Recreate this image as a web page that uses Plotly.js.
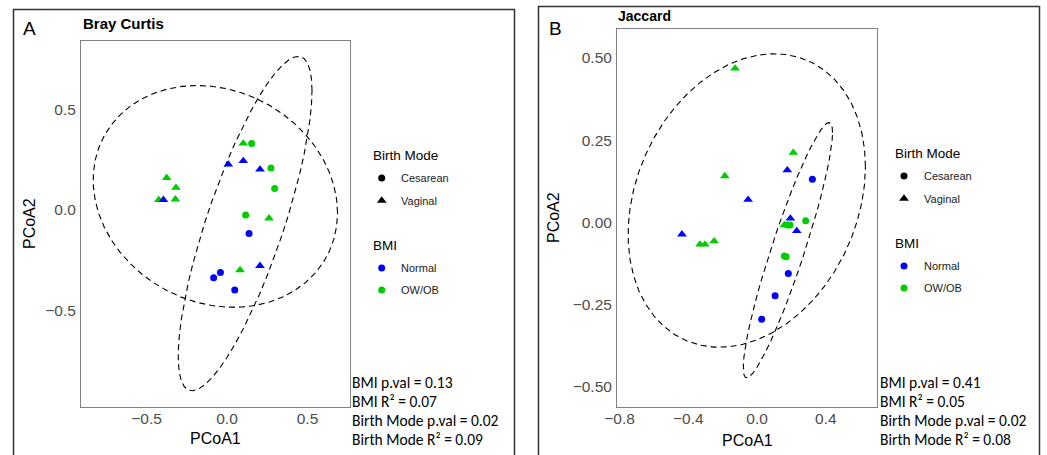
<!DOCTYPE html>
<html><head><meta charset="utf-8">
<script src="https://cdn.plot.ly/plotly-3.0.1.min.js"></script>
<style>html,body{margin:0;padding:0;background:#fff}#chart{width:1047px;height:455px}</style>
</head><body><div id="chart"></div>
<script>
// ---------- Panel A: Bray Curtis ----------
const brayPC1 = [0.101,0.153,0.008,0.101,0.205,0.273,0.296,-0.375,-0.317,-0.424,-0.395,-0.321,0.116,0.261,0.137,0.205,0.081,-0.041,-0.083,0.048];
const brayPC2 = [0.330,0.330,0.226,0.243,0.201,0.208,0.107,0.160,0.111,0.051,0.051,0.053,-0.025,-0.041,-0.116,-0.276,-0.297,-0.309,-0.335,-0.396];
const brayMode = ['Vaginal','Cesarean','Vaginal','Vaginal','Vaginal','Cesarean','Cesarean','Vaginal','Vaginal','Vaginal','Vaginal','Vaginal','Cesarean','Vaginal','Cesarean','Vaginal','Vaginal','Cesarean','Cesarean','Cesarean'];
const brayBMI = ['OW/OB','OW/OB','Normal','Normal','Normal','OW/OB','OW/OB','OW/OB','OW/OB','OW/OB','Normal','OW/OB','OW/OB','OW/OB','Normal','Normal','OW/OB','Normal','Normal','Normal'];
const brayStats = ['BMI p.val = 0.13','BMI R² = 0.07','Birth Mode p.val = 0.02','Birth Mode R² = 0.09'];

// ---------- Panel B: Jaccard ----------
const jacPC1 = [-0.128,0.211,0.176,0.322,-0.188,-0.052,0.194,0.283,0.159,0.175,0.192,0.231,-0.437,-0.332,-0.303,-0.250,0.159,0.169,0.182,0.105,0.027];
const jacPC2 = [0.468,0.212,0.159,0.131,0.141,0.069,0.012,0.005,-0.008,-0.008,-0.008,-0.026,-0.036,-0.067,-0.067,-0.057,-0.102,-0.104,-0.155,-0.223,-0.294];
const jacMode = ['Vaginal','Vaginal','Vaginal','Cesarean','Vaginal','Vaginal','Vaginal','Cesarean','Vaginal','Cesarean','Cesarean','Vaginal','Vaginal','Vaginal','Vaginal','Vaginal','Cesarean','Cesarean','Cesarean','Cesarean','Cesarean'];
const jacBMI = ['OW/OB','OW/OB','Normal','Normal','OW/OB','Normal','Normal','OW/OB','OW/OB','OW/OB','OW/OB','Normal','Normal','OW/OB','OW/OB','OW/OB','OW/OB','OW/OB','Normal','Normal','Normal'];
const jacStats = ['BMI p.val = 0.41','BMI R² = 0.05','Birth Mode p.val = 0.02','Birth Mode R² = 0.08'];

// tick labels
const brayXTicks = [-0.5, 0, 0.5], brayXText = ['\u22120.5','0.0','0.5'];
const brayYTicks = [-0.5, 0, 0.5], brayYText = ['\u22120.5','0.0','0.5'];
const jacXTicks = [-0.8,-0.4,0,0.4], jacXText = ['\u22120.8','\u22120.4','0.0','0.4'];
const jacYTicks = [-0.5,-0.25,0,0.25,0.5], jacYText = ['\u22120.50','\u22120.25','0.00','0.25','0.50'];

const modeLevels = ['Cesarean','Vaginal'];
const bmiLevels = ['Normal','OW/OB'];

// ---------- styling ----------
const W = 1047, H = 455;
const symbolOf = {Cesarean:'circle', Vaginal:'triangle-up'};
const sizeOf = {Cesarean:7, Vaginal:8.5};
const colorOf = {Normal:'#0000FF', 'OW/OB':'#00CD00'};
const PX = p => p / W, PY = p => 1 - p / H;

// ---------- stat_ellipse (type "norm", level 0.95) ----------
function covNorm(xs, ys) {
  const n = xs.length;
  const mx = xs.reduce((a,b)=>a+b,0)/n, my = ys.reduce((a,b)=>a+b,0)/n;
  let a=0,b=0,c=0;
  for (let i=0;i<n;i++){ const dx=xs[i]-mx, dy=ys[i]-my; a+=dx*dx; b+=dx*dy; c+=dy*dy; }
  return {center:[mx,my], cov:[[a/(n-1),b/(n-1)],[b/(n-1),c/(n-1)]]};
}
function statEllipse(xs, ys, level = 0.95, segments = 51) {
  const n = xs.length, dfd = n - 1;
  const qf = dfd/2 * (Math.pow(1 - level, -2/dfd) - 1); // F(2, dfd) quantile
  const radius = Math.sqrt(2 * qf);
  const {center, cov} = covNorm(xs, ys);
  const r11 = Math.sqrt(cov[0][0]), r12 = cov[0][1]/r11, r22 = Math.sqrt(cov[1][1] - r12*r12);
  const ex = [], ey = [];
  for (let k = 0; k <= segments; k++) {
    const t = k * 2 * Math.PI / segments, u = Math.cos(t), v = Math.sin(t);
    ex.push(center[0] + radius * (u * r11));
    ey.push(center[1] + radius * (u * r12 + v * r22));
  }
  return {ex, ey};
}

const traces = [];
function addPanel(pc1, pc2, mode, bmi, xa, ya) {
  modeLevels.forEach(m => {
    const idx = mode.map((v,i)=>v===m?i:-1).filter(i=>i>=0);
    const e = statEllipse(idx.map(i=>pc1[i]), idx.map(i=>pc2[i]));
    traces.push({type:'scatter', mode:'lines', x:e.ex, y:e.ey, xaxis:xa, yaxis:ya,
      line:{color:'#000', width:1.1, dash:'6px,4px'}, hoverinfo:'skip', showlegend:false});
  });
  traces.push({type:'scatter', mode:'markers', x:pc1, y:pc2, xaxis:xa, yaxis:ya, showlegend:false,
    marker:{symbol: mode.map(m=>symbolOf[m]), size: mode.map(m=>sizeOf[m]), color: bmi.map(b=>colorOf[b]), opacity:1, line:{width:0}}});
}
addPanel(brayPC1, brayPC2, brayMode, brayBMI, 'x', 'y');
addPanel(jacPC1, jacPC2, jacMode, jacBMI, 'x2', 'y2');

// ---------- legends ----------
const annotations = [];
function addLegend(titleX, keyX, textX, y0) {
  const ys1 = [y0 + 23, y0 + 45.5], ys2 = [y0 + 113, y0 + 135];
  annotations.push({xref:'paper', yref:'paper', x:PX(titleX), y:PY(y0), xanchor:'left', yanchor:'middle', text:'Birth Mode', showarrow:false, font:{size:13.5, color:'#000'}});
  annotations.push({xref:'paper', yref:'paper', x:PX(titleX), y:PY(y0+90), xanchor:'left', yanchor:'middle', text:'BMI', showarrow:false, font:{size:13.5, color:'#000'}});
  traces.push({type:'scatter', mode:'markers', xaxis:'x3', yaxis:'y3', showlegend:false, hoverinfo:'skip',
    x: modeLevels.map(()=>keyX).concat(bmiLevels.map(()=>keyX)), y: ys1.concat(ys2),
    marker:{symbol: modeLevels.map(m=>symbolOf[m]).concat(bmiLevels.map(()=> 'circle')),
      size: modeLevels.map(m=>sizeOf[m]).concat(bmiLevels.map(()=>7)), opacity:1,
      color: modeLevels.map(()=> '#000').concat(bmiLevels.map(b=>colorOf[b])), line:{width:0}}});
  modeLevels.forEach((m,i)=>annotations.push({xref:'paper', yref:'paper', x:PX(textX), y:PY(ys1[i]), xanchor:'left', yanchor:'middle', text:m, showarrow:false, font:{size:11, color:'#1a1a1a'}}));
  bmiLevels.forEach((b,i)=>annotations.push({xref:'paper', yref:'paper', x:PX(textX), y:PY(ys2[i]), xanchor:'left', yanchor:'middle', text:b, showarrow:false, font:{size:11, color:'#1a1a1a'}}));
}
addLegend(371, 381.7, 399, 155);
addLegend(893, 904, 922, 153);

function addStats(lines, x) {
  lines.forEach((t,i)=>annotations.push({xref:'paper', yref:'paper', x:PX(x), y:PY(382 + i*19), xanchor:'left', yanchor:'middle', text:t, showarrow:false,
    font:{family:'Carlito, Lato, sans-serif', size:15.5, color:'#000'}}));
}
addStats(brayStats, 350);
addStats(jacStats, 878);

const ann = (x,y,t,f,xa='left') => annotations.push({xref:'paper', yref:'paper', x:PX(x), y:PY(y), xanchor:xa, yanchor:'middle', text:t, showarrow:false, font:f});
ann(21, 28, 'A', {size:19, color:'#000'});
ann(81, 23, '<b>Bray Curtis</b>', {size:15, color:'#000'});
ann(547, 28, 'B', {size:19, color:'#000'});
ann(616, 16, '<b>Jaccard</b>', {size:14, color:'#000'});
ann(215.5, 438, 'PCoA1', {size:16, color:'#000'}, 'center');
ann(747, 440, 'PCoA1', {size:16, color:'#000'}, 'center');
annotations.push({xref:'paper', yref:'paper', x:PX(29), y:PY(224), xanchor:'center', yanchor:'middle', text:'PCoA2', textangle:-90, showarrow:false, font:{size:16, color:'#000'}});
annotations.push({xref:'paper', yref:'paper', x:PX(553), y:PY(218), xanchor:'center', yanchor:'middle', text:'PCoA2', textangle:-90, showarrow:false, font:{size:16, color:'#000'}});

const axBase = {showgrid:false, zeroline:false, showline:true, mirror:true, linecolor:'#808080', linewidth:1,
  ticks:'', ticklen:0, tickfont:{size:15.5, color:'#4d4d4d'}, tickmode:'array', fixedrange:true};
const layout = {
  width:W, height:H, margin:{l:0,r:0,t:0,b:0}, paper_bgcolor:'#fff', plot_bgcolor:'rgba(0,0,0,0)',
  font:{family:'"Liberation Sans", Arial, sans-serif'}, showlegend:false,
  xaxis: Object.assign({}, axBase, {domain:[PX(81),PX(350)], range:[-0.907,0.764], tickvals:brayXTicks, ticktext:brayXText, anchor:'y', ticklabelstandoff:-3}),
  yaxis: Object.assign({}, axBase, {domain:[PY(407),PY(41)], range:[-0.975,0.837], tickvals:brayYTicks, ticktext:brayYText, anchor:'x', ticklabelstandoff:1}),
  xaxis2: Object.assign({}, axBase, {domain:[PX(617),PX(877)], range:[-0.815,0.698], tickvals:jacXTicks, ticktext:jacXText, anchor:'y2', ticklabelstandoff:-3}),
  yaxis2: Object.assign({}, axBase, {domain:[PY(407),PY(29)], range:[-0.561,0.588], tickvals:jacYTicks, ticktext:jacYText, anchor:'x2', ticklabelstandoff:1}),
  xaxis3: {domain:[0,1], range:[0,W], visible:false, fixedrange:true, anchor:'y3'},
  yaxis3: {domain:[0,1], range:[H,0], visible:false, fixedrange:true, anchor:'x3'},
  shapes: [
    {type:'rect', xref:'x3', yref:'y3', x0:13.5, y0:9.5, x1:514.5, y1:470, line:{color:'#333', width:1.5}},
    {type:'rect', xref:'x3', yref:'y3', x0:538.5, y0:6.5, x1:1039.5, y1:470, line:{color:'#333', width:1.5}}
  ],
  annotations
};
Plotly.newPlot('chart', traces, layout, {staticPlot:true, displayModeBar:false});
</script></body></html>
